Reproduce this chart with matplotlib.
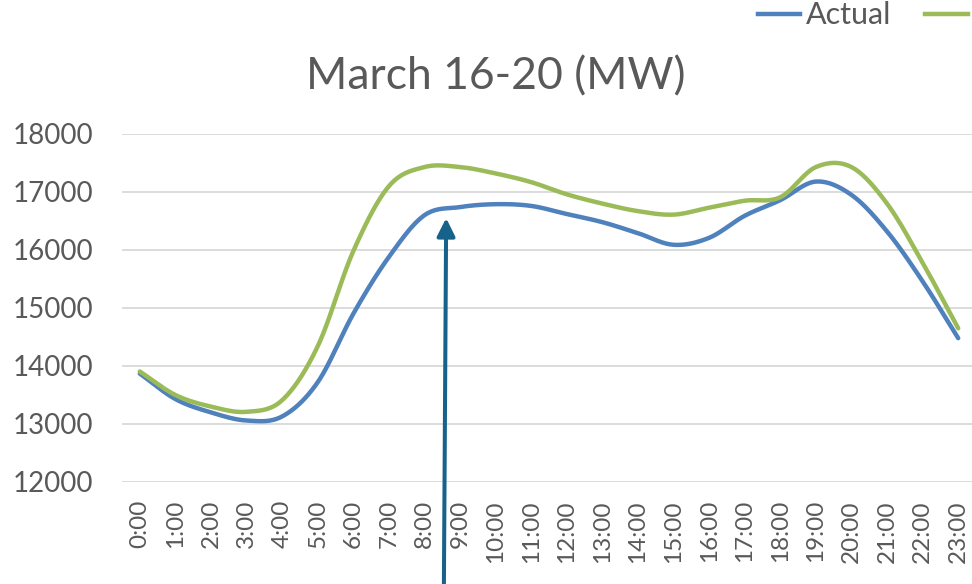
import numpy as np
import matplotlib.pyplot as plt
from matplotlib.lines import Line2D

# Hourly load, March 16-20 (MW)
hours = ['%d:00' % h for h in range(24)]
actual = [13870, 13430, 13200, 13060, 13130, 13720, 14900, 15880, 16600, 16740,
          16790, 16760, 16620, 16480, 16290, 16090, 16210, 16590, 16860, 17180,
          16950, 16320, 15460, 14480]
forecast = [13905, 13500, 13300, 13210, 13410, 14340, 15980, 17100, 17430, 17430,
            17320, 17170, 16960, 16800, 16670, 16610, 16730, 16850, 16910, 17430,
            17430, 16800, 15780, 14650]

blue = '#4F81BD'
green = '#9BBB59'
grey = '#595959'


def smooth(y, n=20):
    # catmull-rom through the points, like Excel's smoothed line
    y = np.asarray(y, float)
    p = np.concatenate([[2 * y[0] - y[1]], y, [2 * y[-1] - y[-2]]])
    xs, ys = [], []
    t = np.linspace(0, 1, n, endpoint=False)
    for i in range(len(y) - 1):
        p0, p1, p2, p3 = p[i], p[i + 1], p[i + 2], p[i + 3]
        v = 0.5 * ((2 * p1) + (-p0 + p2) * t + (2 * p0 - 5 * p1 + 4 * p2 - p3) * t ** 2
                   + (-p0 + 3 * p1 - 3 * p2 + p3) * t ** 3)
        xs.extend(i + t)
        ys.extend(v)
    xs.append(len(y) - 1)
    ys.append(y[-1])
    return np.array(xs), np.array(ys)


plt.rcParams['font.family'] = ['Lato', 'DejaVu Sans']

fig = plt.figure(figsize=(9.72, 5.84), dpi=100)
ax = fig.add_axes([122 / 972, 1 - 482 / 584, (976 - 122) / 972, 348 / 584])

x = np.arange(len(hours))
xs, ys = smooth(actual)
ax.plot(xs, ys, color=blue, lw=3.2, solid_capstyle='round', zorder=3)
xs, ys = smooth(forecast)
ax.plot(xs, ys, color=green, lw=3.2, solid_capstyle='round', zorder=3)

ax.set_xlim(-0.5, 23.5)
ax.set_ylim(12000, 18000)
ax.set_yticks(range(12000, 18001, 1000))
ax.set_xticks(x)
ax.set_xticklabels(hours, rotation=90)
ax.grid(axis='y', color='#D9D9D9', lw=1.3)
ax.set_axisbelow(True)
for s in ax.spines.values():
    s.set_visible(False)
ax.tick_params(axis='y', length=0, pad=21, labelsize=20, labelcolor=grey)
ax.tick_params(axis='x', length=0, pad=13, labelsize=17.5, labelcolor=grey)

fig.text(0.51, 0.868, 'March 16-20 (MW)', ha='center', va='center',
         fontsize=32, color=grey)

# legend (cut off at right edge)
fig.add_artist(Line2D([758 / 972, 800 / 972], [1 - 14 / 584] * 2, color=blue, lw=3.2,
                      transform=fig.transFigure))
fig.text(806 / 972, 1 - 15 / 584, 'Actual', ha='left', va='center', fontsize=22, color=grey)
fig.add_artist(Line2D([925 / 972, 968 / 972], [1 - 14 / 584] * 2, color=green, lw=3.2,
                      transform=fig.transFigure))

# arrow pointing at the morning ramp
ax.annotate('', xy=(8.61, 16550), xytext=(8.54, 9600), xycoords='data',
            textcoords='data', annotation_clip=False,
            arrowprops=dict(arrowstyle='-|>,head_width=0.27,head_length=0.54',
                            mutation_scale=20, color='#17628A', lw=2.9,
                            shrinkA=0, shrinkB=0))

fig.savefig('out.png', dpi=100)
